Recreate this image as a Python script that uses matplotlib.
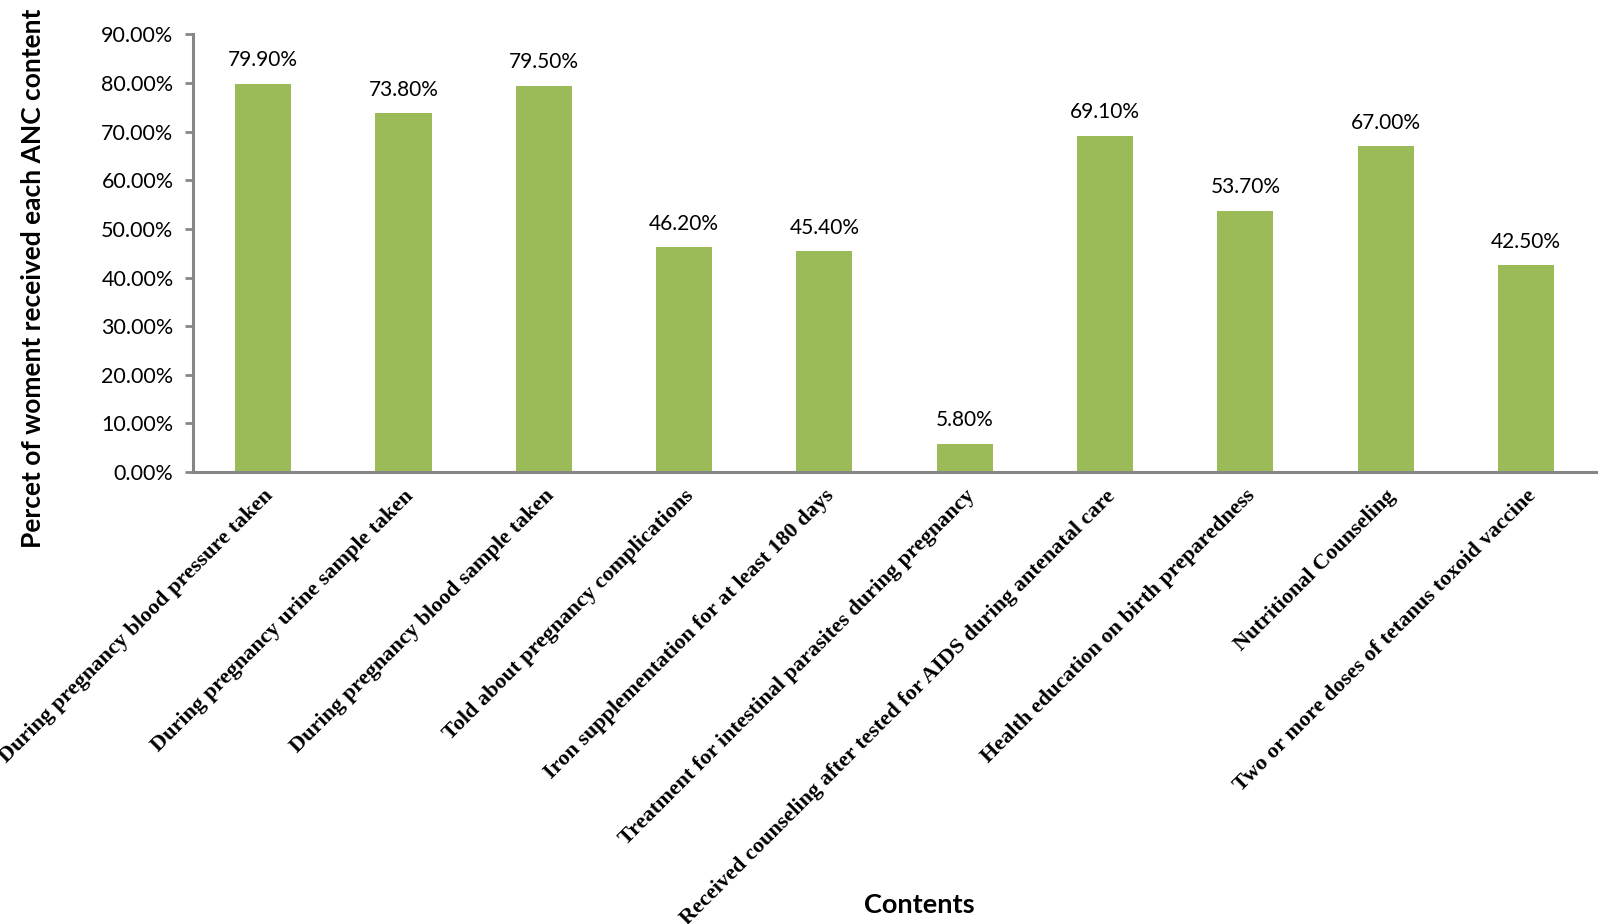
import matplotlib
matplotlib.use('Agg')
import matplotlib.pyplot as plt
from matplotlib.ticker import FuncFormatter, MultipleLocator

categories = [
    'During pregnancy blood pressure taken',
    'During pregnancy urine sample taken',
    'During pregnancy blood sample taken',
    'Told about pregnancy complications',
    'Iron supplementation for at least 180 days',
    'Treatment for intestinal parasites during pregnancy',
    'Received counseling after tested for AIDS during antenatal care',
    'Health education on birth preparedness',
    'Nutritional Counseling',
    'Two or more doses of tetanus toxoid vaccine',
]
values = [79.9, 73.8, 79.5, 46.2, 45.4, 5.8, 69.1, 53.7, 67.0, 42.5]

BAR = '#9BBB59'
AXIS = '#868686'

fig = plt.figure(figsize=(16, 9.24), dpi=100)
ax = fig.add_axes([0.1206, 0.4892, 0.877, 0.4735])

x = list(range(len(categories)))
ax.bar(x, values, width=0.4, color=BAR, zorder=2)
for xi, v in zip(x, values):
    ax.annotate(f'{v:.2f}%', (xi, v), xytext=(0, 17), textcoords='offset points',
                ha='center', va='center', fontsize=15, family='Lato')

ax.set_xlim(-0.5, len(categories) - 0.5)
ax.set_ylim(0, 90)
ax.yaxis.set_major_locator(MultipleLocator(10))
ax.yaxis.set_major_formatter(FuncFormatter(lambda v, p: f'{v:.2f}%'))
for lbl in ax.get_yticklabels():
    lbl.set_family('Lato')
ax.tick_params(axis='y', labelsize=15.5, length=6, width=2, color=AXIS, pad=8)

ax.set_xticks(x)
ax.set_xticklabels(categories, rotation=45, ha='right', rotation_mode='anchor',
                   family='Liberation Serif', fontweight='bold', fontsize=16)
ax.tick_params(axis='x', length=0, pad=10)

for s in ['top', 'right']:
    ax.spines[s].set_visible(False)
for s in ['left', 'bottom']:
    ax.spines[s].set_color(AXIS)
    ax.spines[s].set_linewidth(2.2)

fig.text(33 / 1600, 1 - 278 / 924, 'Percet of woment received each ANC content',
         rotation=90, ha='center', va='center', fontsize=19, fontweight='bold', family='Lato')
fig.text(919 / 1600, 1 - 905 / 924, 'Contents', ha='center', va='center',
         fontsize=19.5, fontweight='bold', family='Lato')

fig.savefig('out.png', dpi=100)
